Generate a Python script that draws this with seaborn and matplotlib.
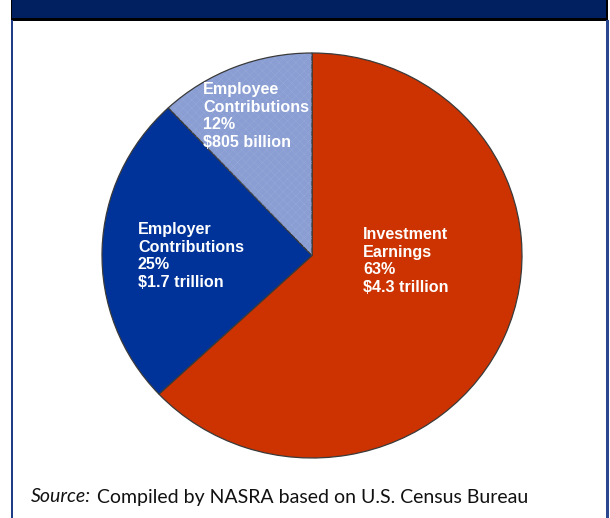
import matplotlib
matplotlib.use("Agg")
import matplotlib.pyplot as plt
import seaborn as sns
from matplotlib.patches import Rectangle

sns.set_theme(style="white")
plt.rcParams["font.family"] = ["Liberation Sans", "DejaVu Sans"]

# Sources of public pension revenue
categories = ["Investment\nEarnings", "Employer\nContributions", "Employee\nContributions"]
shares = [63, 25, 12]
amounts = ["$4.3 trillion", "$1.7 trillion", "$805 billion"]
colors = ["#CC3300", "#003399", "#8A9ED3"]

W, H = 610, 518
fig = plt.figure(figsize=(W / 100, H / 100), dpi=100)
fig.patch.set_facecolor("white")

def px_rect(x0, y0, x1, y1, **kw):
    """Rectangle in pixel coords (origin top-left)."""
    fig.patches.append(Rectangle((x0 / W, 1 - y1 / H), (x1 - x0) / W, (y1 - y0) / H,
                                 transform=fig.transFigure, figure=fig, **kw))

# panel frame: navy header band, dark rule, blue side borders
px_rect(11, 0, 608, 20.5, facecolor="#000000", edgecolor="none")
px_rect(12, 0, 606, 18, facecolor="#002060", edgecolor="none")
px_rect(10.5, 20, 12.5, H, facecolor="#1F3C88", edgecolor="none")
px_rect(606, 20, 608.5, H, facecolor="#2A4790", edgecolor="none")

# pie axes spanning the pie's pixel box
cx0, cx1, cy0, cy1 = 102, 522, 53, 458
ax = fig.add_axes([cx0 / W, 1 - cy1 / H, (cx1 - cx0) / W, (cy1 - cy0) / H])
wedges, _ = ax.pie(shares, colors=colors, startangle=90, counterclock=False,
                   radius=1.0,
                   wedgeprops=dict(edgecolor="#3a3a3a", linewidth=0.9))
# faint texture on the employee slice
plt.rcParams["hatch.linewidth"] = 0.3
total = sum(shares)
ax.pie([shares[2] / total], colors=["none"],
       startangle=90 - 360 * (shares[0] + shares[1]) / total,
       counterclock=False, radius=0.995, normalize=False,
       wedgeprops=dict(edgecolor="#98AADA", linewidth=0, hatch="xxxx"))
ax.set_aspect("auto")
ax.set_xlim(-1, 1)
ax.set_ylim(-1, 1)
ax.axis("off")

# slice labels (data coords of the pie)
label_pos = [(0.243, -0.027), (-0.829, -0.002), (-0.519, 0.689)]
for name, pct, amt, (lx, ly) in zip(categories, shares, amounts, label_pos):
    ax.text(lx, ly, f"{name}\n{pct}%\n{amt}", ha="left", va="center",
            color="white", fontsize=11.6, fontweight="bold", linespacing=1.2)

# source line
fig.text(31 / W, 1 - 497 / H, "Source:", fontfamily="Lato", fontstyle="italic",
         fontsize=14, color="#111111", va="center", ha="left")
fig.text(97 / W, 1 - 497 / H, "Compiled by NASRA based on U.S. Census Bureau",
         fontfamily="Lato", fontsize=14, color="#111111", va="center", ha="left")

fig.savefig("out.png", dpi=100)
